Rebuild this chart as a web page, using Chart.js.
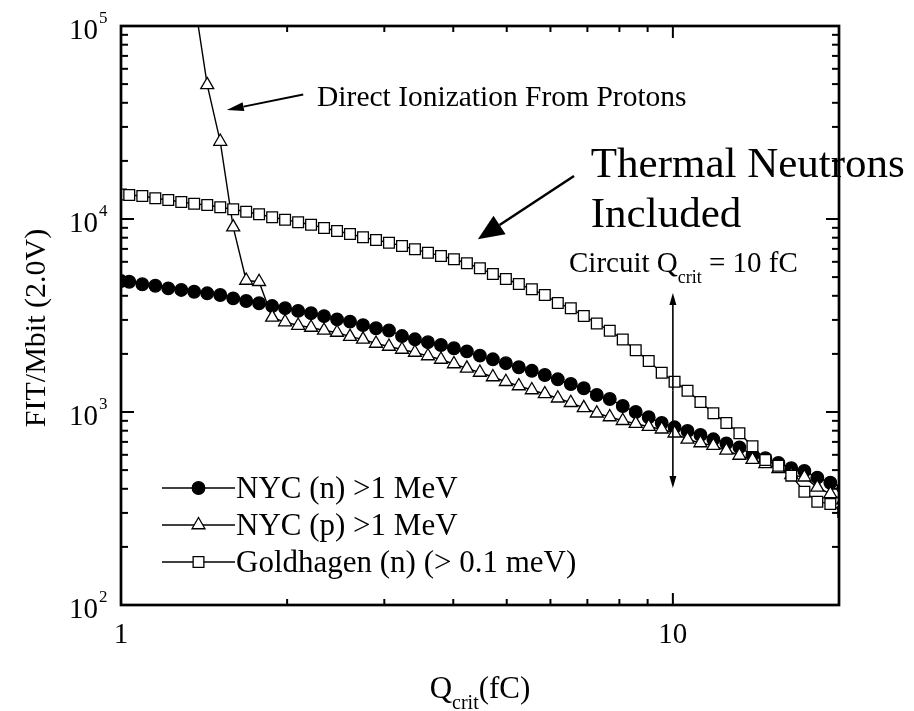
<!DOCTYPE html>
<html>
<head>
<meta charset="utf-8">
<title>FIT/Mbit vs Qcrit</title>
<script src="https://cdn.jsdelivr.net/npm/chart.js@4.4.1/dist/chart.umd.min.js"></script>
<style>
  html, body { margin: 0; padding: 0; background: #fff; }
  #wrap { width: 914px; height: 711px; }
</style>
</head>
<body>
<div id="wrap"><canvas id="chart" width="914" height="711"></canvas></div>
<script>
'use strict';

// Critical charge (fC) - shared x values for all curves
const qcrit = [1.0, 1.035, 1.093, 1.154, 1.218, 1.286, 1.357, 1.433, 1.513, 1.597, 1.686,
    1.779, 1.879, 1.983, 2.094, 2.210, 2.333, 2.463, 2.600, 2.745, 2.898,
    3.059, 3.230, 3.409, 3.599, 3.800, 4.011, 4.234, 4.470, 4.719, 4.982,
    5.259, 5.552, 5.861, 6.187, 6.532, 6.896, 7.280, 7.685, 8.113, 8.564,
    9.041, 9.545, 10.07, 10.63, 11.22, 11.84, 12.50, 13.20, 13.94, 14.71,
    15.53, 16.39, 17.31, 18.27, 19.29, 20.36];

// FIT/Mbit (2.0V)
const nycNeutron = [4770, 4730, 4590, 4510, 4370, 4290, 4200, 4120, 4040, 3880, 3760,
    3660, 3540, 3450, 3340, 3250, 3140, 3020, 2940, 2820, 2715,
    2645, 2475, 2380, 2300, 2225, 2140, 2060, 1960, 1875, 1790,
    1705, 1635, 1555, 1477, 1397, 1327, 1225, 1168, 1074, 1000,
    939, 877, 833, 797, 760, 722, 688, 656, 599, 576,
    544, 511, 495, 457, 430, 404];

const nycProton = [null, null, null, null, null, null, 138000, 49500, 25200, 9070, 4800,
    4730, 3090, 2925, 2805, 2740, 2645, 2582, 2456, 2380, 2264,
    2185, 2108, 2034, 1951, 1871, 1773, 1684, 1602, 1518, 1435,
    1364, 1300, 1240, 1178, 1117, 1051, 985, 942, 901, 870,
    839, 814, 776, 722, 691, 669, 633, 595, 566, 538,
    507, 472, 459, 407, 376, 350];

const goldhagen = [13400, 13320, 13160, 12800, 12550, 12250, 12000, 11815, 11500, 11230, 10910,
    10580, 10205, 9920, 9625, 9343, 8980, 8665, 8360, 8040, 7785,
    7540, 7246, 6966, 6690, 6432, 6183, 5896, 5554, 5188, 4889,
    4604, 4323, 4038, 3671, 3446, 3143, 2874, 2638, 2375, 2088,
    1837, 1598, 1435, 1290, 1127, 985, 877, 776, 664, 564,
    527, 468, 386, 343, 334, 303];

const seriesLabels = ['NYC (n) >1 MeV', 'NYC (p) >1 MeV', 'Goldhagen (n) (> 0.1 meV)'];
const xTickValues = [1, 10];
const xTickLabels = ['1', '10'];
const yTickExponents = [2, 3, 4, 5];

const SERIF = '"Liberation Serif", "Times New Roman", serif';

const markerStyles = [
    { style: 'circle', radius: 6.3, fill: '#000' },
    { style: 'triangle', radius: 7.5, fill: '#fff' },
    { style: 'rect', radius: 7.6, fill: '#fff' }
];

function toPoints(values) {
    return qcrit.map((q, i) => ({ x: q, y: values[i] }));
}

function makeDataset(label, values, idx, order) {
    const m = markerStyles[idx];
    return {
        label: label,
        data: toPoints(values),
        borderColor: '#000',
        borderWidth: 1.4,
        tension: 0,
        pointStyle: m.style,
        pointRadius: m.radius,
        pointBackgroundColor: m.fill,
        pointBorderColor: '#000',
        pointBorderWidth: 1.3,
        order: order
    };
}

function drawText(ctx, str, x, y, size, align) {
    ctx.font = size + 'px ' + SERIF;
    ctx.textAlign = align || 'left';
    ctx.fillText(str, x, y);
    return ctx.measureText(str).width;
}

// runs of text with optional vertical offset (sub/superscripts)
function drawRuns(ctx, runs, x, y) {
    let cx = x;
    runs.forEach(r => {
        cx += drawText(ctx, r.t, cx, y + (r.dy || 0), r.size, 'left');
    });
    return cx - x;
}

function runsWidth(ctx, runs) {
    let w = 0;
    runs.forEach(r => {
        ctx.font = r.size + 'px ' + SERIF;
        w += ctx.measureText(r.t).width;
    });
    return w;
}

function drawArrow(ctx, x1, y1, x2, y2, len, half, width) {
    const ang = Math.atan2(y2 - y1, x2 - x1);
    const bx = x2 - len * Math.cos(ang);
    const by = y2 - len * Math.sin(ang);
    ctx.lineWidth = width;
    ctx.beginPath();
    ctx.moveTo(x1, y1);
    ctx.lineTo(bx, by);
    ctx.stroke();
    ctx.beginPath();
    ctx.moveTo(x2, y2);
    ctx.lineTo(bx + half * Math.sin(ang), by - half * Math.cos(ang));
    ctx.lineTo(bx - half * Math.sin(ang), by + half * Math.cos(ang));
    ctx.closePath();
    ctx.fill();
}

function drawMarker(ctx, m, x, y) {
    const r = m.radius;
    ctx.beginPath();
    if (m.style === 'circle') {
        ctx.arc(x, y, r, 0, Math.PI * 2);
    } else if (m.style === 'triangle') {
        ctx.moveTo(x, y - r);
        ctx.lineTo(x + r * Math.sin(Math.PI / 3), y + r / 2);
        ctx.lineTo(x - r * Math.sin(Math.PI / 3), y + r / 2);
        ctx.closePath();
    } else {
        const s = r * Math.SQRT1_2;
        ctx.rect(x - s, y - s, 2 * s, 2 * s);
    }
    ctx.fillStyle = m.fill;
    ctx.fill();
    ctx.lineWidth = 1.3;
    ctx.stroke();
}

function drawAnnotations(ctx, xs, ys) {
    const px = v => xs.getPixelForValue(v);
    const py = v => ys.getPixelForValue(v);
    ctx.fillStyle = '#000';
    ctx.strokeStyle = '#000';

    // direct ionization arrow + label
    drawArrow(ctx, px(2.139), py(44150), px(1.555), py(36720), 17, 4.5, 2);
    drawText(ctx, 'Direct Ionization From Protons', px(2.266), py(38500), 29.5);

    // thermal neutrons arrow + label
    drawArrow(ctx, px(6.62), py(16700), px(4.432), py(7850), 26, 11, 2.5);
    drawText(ctx, 'Thermal Neutrons', px(7.10), py(16560), 43);
    drawText(ctx, 'Included', px(7.10), py(9120), 43);

    // circuit Qcrit marker at 10 fC
    drawRuns(ctx, [
        { t: 'Circuit Q', size: 29 },
        { t: 'crit', size: 18, dy: 11 },
        { t: ' = 10 fC', size: 29 }
    ], px(6.483), py(5335));
    const top = py(4140), bottom = py(404), x10 = px(10);
    drawArrow(ctx, x10, (top + bottom) / 2, x10, bottom, 12, 3.5, 1.6);
    drawArrow(ctx, x10, (top + bottom) / 2, x10, top, 12, 3.5, 1.6);
}

function drawAxes(ctx, area, xs, ys) {
    ctx.strokeStyle = '#000';
    ctx.fillStyle = '#000';
    ctx.lineWidth = 2;

    const tick = (x1, y1, x2, y2) => {
        ctx.beginPath();
        ctx.moveTo(x1, y1);
        ctx.lineTo(x2, y2);
        ctx.stroke();
    };

    // x ticks (inward, top and bottom)
    for (let v = 2; v <= 10; v++) {
        const x = xs.getPixelForValue(v);
        const len = v === 10 ? 12 : 6;
        tick(x, area.bottom, x, area.bottom - len);
        tick(x, area.top, x, area.top + len);
    }

    // y ticks (inward, left and right)
    for (let e = 2; e <= 4; e++) {
        for (let m = 1; m <= 9; m++) {
            const v = m * Math.pow(10, e);
            if (v <= 100) continue;
            const y = ys.getPixelForValue(v);
            const len = m === 1 ? 13 : 7;
            tick(area.left, y, area.left + len, y);
            tick(area.right, y, area.right - len, y);
        }
    }

    ctx.lineWidth = 2.7;
    ctx.strokeRect(area.left, area.top, area.right - area.left, area.bottom - area.top);

    // tick labels
    ctx.textBaseline = 'alphabetic';
    xTickValues.forEach((v, i) => {
        drawText(ctx, xTickLabels[i], xs.getPixelForValue(v), area.bottom + 38, 29, 'center');
    });
    yTickExponents.forEach(e => {
        const y = ys.getPixelForValue(Math.pow(10, e));
        drawText(ctx, '10', area.left - 23, y + 13, 29, 'right');
        drawText(ctx, String(e), area.left - 22, y - 3, 17, 'left');
    });

    // axis titles
    const xRuns = [
        { t: 'Q', size: 31 },
        { t: 'crit', size: 20, dy: 11 },
        { t: '(fC)', size: 31 }
    ];
    const cx = (area.left + area.right) / 2;
    drawRuns(ctx, xRuns, cx - runsWidth(ctx, xRuns) / 2, area.bottom + 93);

    ctx.save();
    ctx.translate(area.left - 76, 328);
    ctx.rotate(-Math.PI / 2);
    drawText(ctx, 'FIT/Mbit (2.0V)', 0, 0, 30, 'center');
    ctx.restore();
}

function drawLegend(ctx, area) {
    const left = area.left + 41;
    const top = area.top + 462;
    const rowGap = 37;
    ctx.strokeStyle = '#000';
    seriesLabels.forEach((label, i) => {
        const y = top + i * rowGap;
        ctx.lineWidth = 1.5;
        ctx.beginPath();
        ctx.moveTo(left, y);
        ctx.lineTo(left + 73, y);
        ctx.stroke();
        drawMarker(ctx, markerStyles[i], left + 36.5, y);
        ctx.fillStyle = '#000';
        drawText(ctx, label, left + 74, y + 10, 31);
    });
}

const framePlugin = {
    id: 'frame',
    afterDraw(chart) {
        const ctx = chart.ctx;
        const area = chart.chartArea;
        const xs = chart.scales.x;
        const ys = chart.scales.y;
        ctx.save();
        drawAnnotations(ctx, xs, ys);
        drawAxes(ctx, area, xs, ys);
        drawLegend(ctx, area);
        ctx.restore();
    }
};

const ctx = document.getElementById('chart').getContext('2d');
new Chart(ctx, {
    type: 'line',
    data: {
        datasets: [
            makeDataset(seriesLabels[0], nycNeutron, 0, 3),
            makeDataset(seriesLabels[1], nycProton, 1, 2),
            makeDataset(seriesLabels[2], goldhagen, 2, 1)
        ]
    },
    options: {
        responsive: false,
        animation: false,
        events: [],
        layout: { padding: { left: 121, top: 26, right: 75, bottom: 106 } },
        plugins: {
            legend: { display: false },
            tooltip: { enabled: false }
        },
        scales: {
            x: { type: 'logarithmic', min: 1, max: 20, display: false },
            y: { type: 'logarithmic', min: 100, max: 100000, display: false }
        }
    },
    plugins: [framePlugin]
});
</script>
</body>
</html>
